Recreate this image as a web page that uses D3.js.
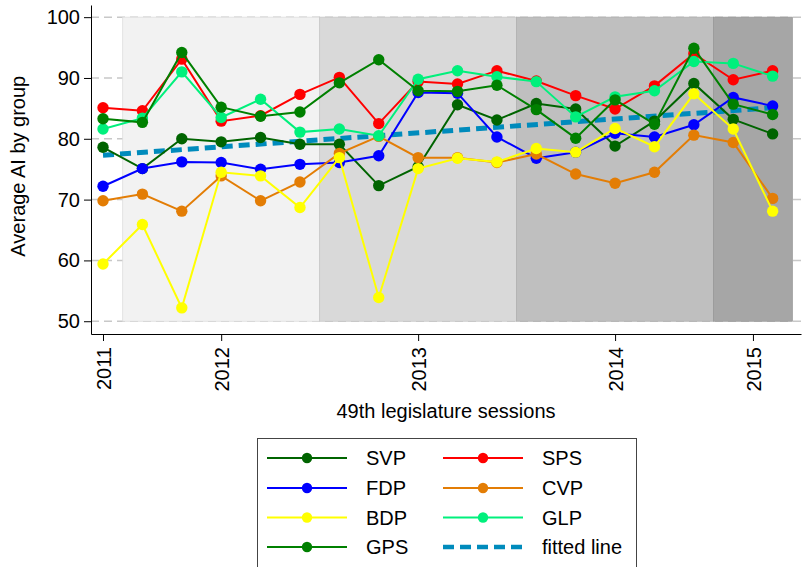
<!DOCTYPE html>
<html lang="en">
<head>
    <meta charset="UTF-8">
    <title>Average AI by group</title>
    <script src="https://d3js.org/d3.v7.min.js"></script>
    <style>
        body { margin: 0; background: #fff; }
        text { font-family: "Liberation Sans", Arial, sans-serif; fill: #000; }
        .axis path, .axis line { stroke: #000; stroke-width: 1; }
    </style>
</head>
<body>
<svg width="802" height="567"></svg>
<script>
    // sessions of the 49th legislature (index along the x axis)
    const sessions = d3.range(18);

    const svp = [78.6, 75.1, 80.0, 79.5, 80.2, 79.1, 79.1, 72.3, 75.4, 85.6, 83.1, 85.8, 84.9, 78.8, 82.9, 89.1, 83.2, 80.8];
    const sps = [85.1, 84.6, 93.1, 82.9, 83.8, 87.3, 90.1, 82.5, 89.4, 89.0, 91.2, 89.5, 87.1, 84.9, 88.7, 94.0, 89.7, 91.2];
    const fdp = [72.2, 75.1, 76.2, 76.1, 75.0, 75.8, 76.1, 77.2, 87.6, 87.5, 80.3, 76.8, 77.8, 80.9, 80.3, 82.3, 86.8, 85.4];
    const cvp = [69.8, 70.9, 68.1, 73.9, 69.8, 72.9, 77.6, 80.4, 76.9, 76.9, 76.1, 77.5, 74.2, 72.7, 74.5, 80.6, 79.4, 70.2];
    const bdp = [59.4, 65.9, 52.2, 74.5, 73.9, 68.7, 76.9, 53.9, 75.1, 76.8, 76.2, 78.4, 77.8, 81.7, 78.7, 87.4, 81.6, 68.1];
    const glp = [81.6, 83.4, 91.0, 83.5, 86.5, 81.1, 81.6, 80.5, 89.8, 91.2, 90.2, 89.4, 83.6, 86.9, 87.9, 92.7, 92.4, 90.3];
    const gps = [83.3, 82.7, 94.2, 85.2, 83.7, 84.4, 89.2, 93.0, 87.9, 87.8, 88.8, 84.8, 80.1, 86.4, 82.4, 94.9, 85.7, 84.0];

    // linear fit, start and end
    const fitX = [0, 17];
    const fitY = [77.3, 85.1];

    // x tick labels
    const yearTicks = [0, 3, 8, 13, 16.5];
    const yearLabels = ["2011", "2012", "2013", "2014", "2015"];
    const yTicks = [50, 60, 70, 80, 90, 100];

    // shaded session periods
    const bandStart = [0.5, 5.5, 10.5, 15.5];
    const bandEnd = [5.5, 10.5, 15.5, 17.5];
    const bandColor = ["#f2f2f2", "#d9d9d9", "#bfbfbf", "#a6a6a6"];

    const parties = [
        { name: "SVP", values: svp, color: "#006400" },
        { name: "SPS", values: sps, color: "#ff0000" },
        { name: "FDP", values: fdp, color: "#0000ff" },
        { name: "CVP", values: cvp, color: "#e37d05" },
        { name: "BDP", values: bdp, color: "#ffff00" },
        { name: "GLP", values: glp, color: "#00f07c" },
        { name: "GPS", values: gps, color: "#008000" }
    ];
    const fitColor = "#008bbc";

    const svg = d3.select("svg");

    const x = d3.scaleLinear().domain([-0.305, 17.72]).range([91, 801]);
    const y = d3.scaleLinear().domain([47.9, 102]).range([334, 5]);

    // grid lines (under the bands)
    svg.append("g")
        .selectAll("line")
        .data(yTicks)
        .join("line")
        .attr("x1", 91).attr("x2", 802)
        .attr("y1", d => y(d)).attr("y2", d => y(d))
        .attr("stroke", "#c8c8c8")
        .attr("stroke-width", 1.5)
        .attr("stroke-dasharray", "8,5");

    // session bands
    svg.append("g")
        .selectAll("rect")
        .data(bandStart)
        .join("rect")
        .attr("x", d => x(d))
        .attr("width", (d, i) => x(bandEnd[i]) - x(d))
        .attr("y", y(100))
        .attr("height", y(50) - y(100))
        .attr("fill", (d, i) => bandColor[i])
        .attr("stroke", (d, i) => d3.color(bandColor[i]).darker(0.25))
        .attr("stroke-width", 0.8);

    // fitted line
    svg.append("line")
        .attr("x1", x(fitX[0])).attr("y1", y(fitY[0]))
        .attr("x2", x(fitX[1])).attr("y2", y(fitY[1]))
        .attr("stroke", fitColor)
        .attr("stroke-width", 5)
        .attr("stroke-dasharray", "11,6");

    const line = d3.line()
        .x((d, i) => x(sessions[i]))
        .y(d => y(d));

    parties.forEach(p => {
        const g = svg.append("g");
        g.append("path")
            .attr("d", line(p.values))
            .attr("fill", "none")
            .attr("stroke", p.color)
            .attr("stroke-width", 2);
        g.selectAll("circle")
            .data(p.values)
            .join("circle")
            .attr("cx", (d, i) => x(sessions[i]))
            .attr("cy", d => y(d))
            .attr("r", 5.7)
            .attr("fill", p.color);
    });

    // y axis
    const yAxis = svg.append("g")
        .attr("class", "axis")
        .attr("transform", "translate(91,0)")
        .call(d3.axisLeft(y).tickValues(yTicks).tickSize(7).tickPadding(4).tickSizeOuter(0));
    yAxis.selectAll("text").style("font-size", "20px");

    // x axis
    const xAxis = svg.append("g")
        .attr("class", "axis")
        .attr("transform", "translate(0,334)")
        .call(d3.axisBottom(x).tickValues(yearTicks)
            .tickFormat((d, i) => yearLabels[i])
            .tickSize(7).tickSizeOuter(0));
    xAxis.selectAll("text")
        .style("font-size", "20px")
        .attr("transform", "rotate(-90)")
        .attr("text-anchor", "end")
        .attr("x", -13)
        .attr("y", 0)
        .attr("dy", "0.36em");

    // axis titles
    svg.append("text")
        .attr("transform", `translate(25,${(y(100) + y(50)) / 2 - 3}) rotate(-90)`)
        .attr("text-anchor", "middle")
        .style("font-size", "20px")
        .text("Average AI by group");

    svg.append("text")
        .attr("x", 446)
        .attr("y", 418)
        .attr("text-anchor", "middle")
        .style("font-size", "20px")
        .text("49th legislature sessions");

    // legend, filled row by row in two columns
    const legend = svg.append("g");
    legend.append("rect")
        .attr("x", 257.5).attr("y", 438.5)
        .attr("width", 379).attr("height", 140)
        .attr("fill", "#fff")
        .attr("stroke", "#444")
        .attr("stroke-width", 1);

    const legendItems = parties.map(p => ({ name: p.name, color: p.color, fit: false }))
        .concat([{ name: "fitted line", color: fitColor, fit: true }]);

    const colX = [267, 443];
    const rowY = [458, 488, 517.5, 547];

    legendItems.forEach((d, i) => {
        const lx = colX[i % 2];
        const ly = rowY[Math.floor(i / 2)];
        const item = legend.append("g").attr("transform", `translate(${lx},${ly})`);
        if (d.fit) {
            item.append("line")
                .attr("x1", 0).attr("x2", 80)
                .attr("stroke", d.color)
                .attr("stroke-width", 4.5)
                .attr("stroke-dasharray", "11,6");
        } else {
            item.append("line")
                .attr("x1", 0).attr("x2", 80)
                .attr("stroke", d.color)
                .attr("stroke-width", 2);
            item.append("circle")
                .attr("cx", 40)
                .attr("r", 5.2)
                .attr("fill", d.color);
        }
        item.append("text")
            .attr("x", 99)
            .attr("y", 7)
            .style("font-size", "20px")
            .text(d.name);
    });
</script>
</body>
</html>
